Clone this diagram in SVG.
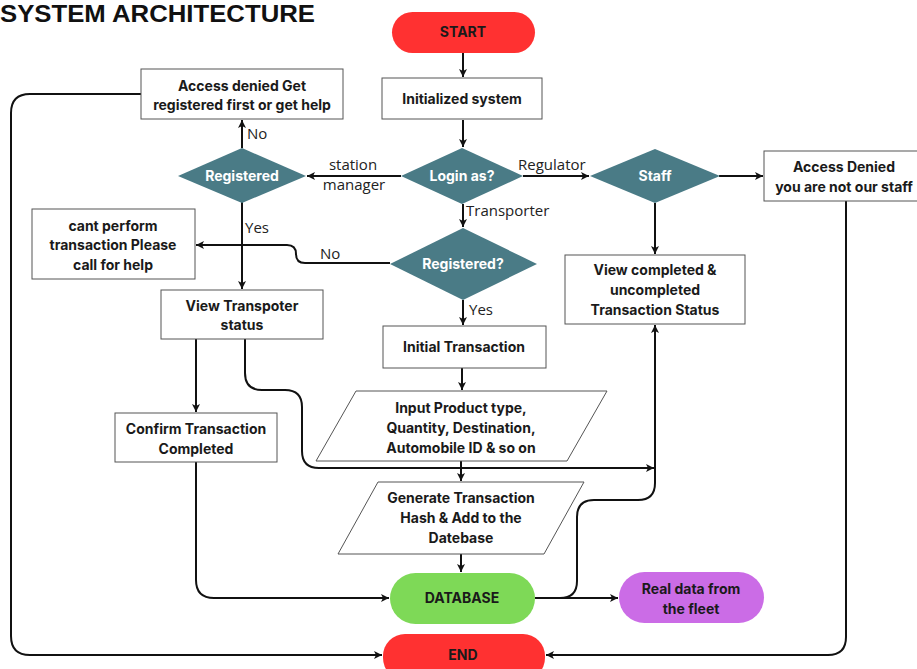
<svg xmlns="http://www.w3.org/2000/svg" width="917" height="669" viewBox="0 0 917 669">
<style>
.box{fill:#fff;stroke:#555;stroke-width:1}
.dia{fill:#4a7b86}
.t{font-family:Inter,"Liberation Sans",sans-serif;font-weight:700;font-size:14px;fill:#1a1a1a;text-anchor:middle}
.tw{font-family:Inter,"Liberation Sans",sans-serif;font-weight:700;font-size:14px;fill:#fff;text-anchor:middle}
.lbl{font-family:"Open Sans","Noto Sans",sans-serif;font-size:15px;fill:#222}
.c{fill:none;stroke:#111;stroke-width:2;marker-end:url(#ah)}
</style>
<defs>
<marker id="ah" markerUnits="userSpaceOnUse" markerWidth="10" markerHeight="10" refX="9" refY="5" orient="auto">
<path d="M1,1 L9,5 L1,9 L3,5 z" fill="#111"/>
</marker>
</defs>
<rect width="917" height="669" fill="#fff"/>
<text x="0" y="21.5" font-family="'Liberation Sans',Arial,sans-serif" font-weight="700" font-size="23" fill="#111" textLength="315" lengthAdjust="spacingAndGlyphs">SYSTEM ARCHITECTURE</text>

<g id="connectors">
<path class="c" d="M463,53 V77"/>
<path class="c" d="M463,120 V147"/>
<path class="c" d="M401,176 H307"/>
<path class="c" d="M242,148 V120"/>
<path class="c" d="M523,176 H589"/>
<path class="c" d="M719,176 H763"/>
<path class="c" d="M463,204 V227"/>
<path class="c" d="M242,202 V289"/>
<path class="c" d="M390,263 H305 Q296,263 296,254 Q296,245 287,245 H196"/>
<path class="c" d="M655,203 V254"/>
<path class="c" d="M463,300 V325"/>
<path class="c" d="M462,368 V390"/>
<path class="c" d="M461,461 V481"/>
<path class="c" d="M461,554 V572"/>
<path class="c" d="M196,339 V412"/>
<path class="c" d="M245,339 V373 Q245,390 262,390 H285 Q302,390 302,407 V451 Q302,468 319,468 H654"/>
<path class="c" d="M196,462 V580 Q196,598 214,598 H389"/>
<path class="c" d="M535,598 H618"/>
<path class="c" d="M535,598 H560 Q577,598 577,581 V517 Q577,500 594,500 H638 Q655,500 655,483 V325"/>
<path class="c" d="M141,94 H30 Q11,94 11,113 V636 Q11,655 30,655 H382"/>
<path class="c" d="M846,201 V637 Q846,655 828,655 H546"/>
<text class="lbl" x="247" y="139">No</text>
<text class="lbl" x="353" y="170" text-anchor="middle">station</text>
<text class="lbl" x="354" y="190" text-anchor="middle">manager</text>
<text class="lbl" x="518" y="170">Regulator</text>
<text class="lbl" x="466" y="216">Transporter</text>
<text class="lbl" x="245" y="233">Yes</text>
<text class="lbl" x="320" y="259">No</text>
<text class="lbl" x="469" y="315">Yes</text>
</g>

<g id="start"><rect x="392" y="12" width="143" height="41" rx="20.5" fill="#ff3131"/><text class="t" x="463" y="37">START</text></g>
<g id="init"><rect class="box" x="382" y="78" width="160" height="41"/><text class="t" x="462" y="104">Initialized system</text></g>
<g id="login"><polygon class="dia" points="401,176 462,148 523,176 462,204"/><text class="tw" x="462" y="181">Login as?</text></g>
<g id="registered-sm"><polygon class="dia" points="178,176 242,148 306,176 242,203"/><text class="tw" x="242" y="181">Registered</text></g>
<g id="access-denied-get"><rect class="box" x="141" y="69" width="202" height="50"/><text class="t" x="242" y="91">Access denied Get</text><text class="t" x="242" y="110">registered first or get help</text></g>
<g id="staff"><polygon class="dia" points="590,176 655,149 720,176 655,203"/><text class="tw" x="655" y="181">Staff</text></g>
<g id="access-denied-staff"><rect class="box" x="764" y="151" width="160" height="50"/><text class="t" x="844" y="172">Access Denied</text><text class="t" x="844" y="192">you are not our staff</text></g>
<g id="registered-tr"><polygon class="dia" points="390,264 463,228 537,264 463,300"/><text class="tw" x="463" y="269">Registered?</text></g>
<g id="cant-perform"><rect class="box" x="32" y="209" width="163" height="70"/><text class="t" x="113" y="231">cant perform</text><text class="t" x="113" y="250">transaction Please</text><text class="t" x="113" y="270">call for help</text></g>
<g id="view-transporter"><rect class="box" x="161" y="290" width="162" height="49"/><text class="t" x="242" y="311">View Transpoter</text><text class="t" x="242" y="330">status</text></g>
<g id="view-completed"><rect class="box" x="565" y="255" width="180" height="69"/><text class="t" x="655" y="275">View completed &amp;</text><text class="t" x="655" y="295">uncompleted</text><text class="t" x="655" y="315">Transaction Status</text></g>
<g id="initial-transaction"><rect class="box" x="383" y="326" width="163" height="42"/><text class="t" x="464" y="352">Initial Transaction</text></g>
<g id="input"><polygon class="box" points="356,391 607,391 567,461 316,461"/><text class="t" x="461" y="413">Input Product type,</text><text class="t" x="461" y="433">Quantity, Destination,</text><text class="t" x="461" y="453">Automobile ID &amp; so on</text></g>
<g id="confirm"><rect class="box" x="115" y="413" width="162" height="49"/><text class="t" x="196" y="434">Confirm Transaction</text><text class="t" x="196" y="454">Completed</text></g>
<g id="generate"><polygon class="box" points="378,482 584,482 544,554 338,554"/><text class="t" x="461" y="503">Generate Transaction</text><text class="t" x="461" y="523">Hash &amp; Add to the</text><text class="t" x="461" y="543">Datebase</text></g>
<g id="database"><rect x="390" y="573" width="145" height="51" rx="25.5" fill="#7ed957"/><text class="t" x="462" y="603">DATABASE</text></g>
<g id="real-data"><rect x="619" y="572" width="145" height="51" rx="25.5" fill="#cb6ce6"/><text class="t" x="691" y="594">Real data from</text><text class="t" x="691" y="614">the fleet</text></g>
<g id="end"><rect x="383" y="634" width="162" height="46" rx="22" fill="#ff3131"/><text class="t" x="463" y="660">END</text></g>
</svg>
